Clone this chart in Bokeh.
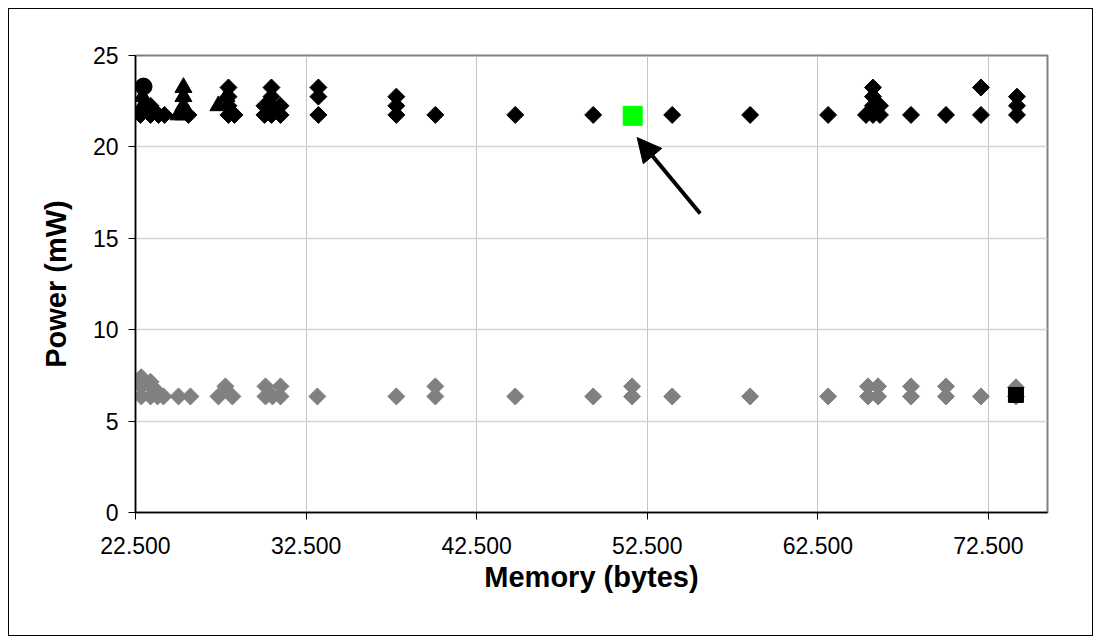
import numpy as np
from bokeh.plotting import figure
from bokeh.layouts import column
from bokeh.models import Range1d, FixedTicker, Arrow, NormalHead
from bokeh.embed import file_html
from bokeh.resources import INLINE

# ---- data ----
black_diamond_x = [22790, 23380, 23380, 23850, 24200, 25600,
                   27950, 27950, 27950, 27950, 28300,
                   30060, 30060, 30470, 30470, 30470, 30470, 31000, 31000,
                   33220, 33220, 33220,
                   37790, 37790, 37790,
                   40075, 44760, 49330, 53960, 58530, 63100,
                   65320, 65730, 65730, 65730, 65730, 66140, 66140,
                   67960, 70010, 72060, 72060,
                   74170, 74170, 74170]
black_diamond_y = [21.75, 21.75, 22.25, 21.75, 21.75, 21.75,
                   21.75, 22.25, 22.75, 23.25, 21.75,
                   21.75, 22.25, 21.75, 22.25, 22.75, 23.25, 21.75, 22.25,
                   21.75, 22.75, 23.25,
                   21.75, 22.25, 22.75,
                   21.75, 21.75, 21.75, 21.75, 21.75, 21.75,
                   21.75, 21.75, 22.25, 22.75, 23.25, 21.75, 22.25,
                   21.75, 21.75, 21.75, 23.25,
                   21.75, 22.25, 22.75]

black_triangle_x = [22910, 22910, 25020, 25310, 25310, 25310, 25310, 27360, 27830]
black_triangle_y = [22.25, 22.75, 21.75, 21.75, 22.25, 22.75, 23.25, 22.25, 22.75]

black_circle_x = [22970]
black_circle_y = [23.3]

gray_x = [22840, 22840, 22840, 23380, 23380, 23380, 23790, 23790, 24140,
          25020, 25720, 27360, 27770, 28180,
          30120, 30120, 30530, 31000, 31000, 33160,
          37790, 40075, 40075, 44760, 49330, 51610, 51610,
          53960, 58530, 63100, 65440, 65440, 66030, 66030,
          67960, 67960, 70010, 70010, 72060, 74110, 74110]
gray_y = [7.4, 6.9, 6.35, 7.15, 6.9, 6.35, 6.6, 6.35, 6.35,
          6.35, 6.35, 6.35, 6.9, 6.35,
          6.9, 6.35, 6.35, 6.9, 6.35, 6.35,
          6.35, 6.35, 6.9, 6.35, 6.35, 6.35, 6.9,
          6.35, 6.35, 6.35, 6.35, 6.9, 6.35, 6.9,
          6.35, 6.9, 6.35, 6.9, 6.35, 6.85, 6.35]

green_x = [51645]
green_y = [21.7]

black_square_x = [74110]
black_square_y = [6.43]

x_ticks = [22500, 32500, 42500, 52500, 62500, 72500]
x_tick_labels = ["22.500", "32.500", "42.500", "52.500", "62.500", "72.500"]
y_ticks = [0, 5, 10, 15, 20, 25]

arrow_tail = (55600, 16.36)
arrow_tip = (51908, 20.51)

FONT = "Liberation Sans"

p = figure(width=1083, height=626, output_backend="svg", toolbar_location=None,
           x_range=Range1d(22500, 75960), y_range=Range1d(0, 25),
           min_border_left=126, min_border_right=45, min_border_top=46,
           min_border_bottom=123)

p.outline_line_color = "#808080"
p.outline_line_width = 2

p.xgrid.grid_line_color = "#c4c4c4"
p.xgrid.grid_line_width = 1
p.ygrid.grid_line_color = "#d4d4d4"
p.ygrid.grid_line_width = 1.5

p.xaxis.ticker = FixedTicker(ticks=x_ticks)
p.xaxis.major_label_overrides = dict(zip(x_ticks, x_tick_labels))
p.yaxis.ticker = FixedTicker(ticks=y_ticks)

for ax in (p.xaxis, p.yaxis):
    ax.axis_line_color = "black"
    ax.axis_line_width = 1.5
    ax.major_tick_line_color = "black"
    ax.major_tick_in = 0
    ax.major_tick_out = 7
    ax.minor_tick_line_color = None
    ax.major_label_text_font = FONT
    ax.major_label_text_font_size = "23px"
    ax.major_label_text_color = "black"
    ax.axis_label_text_font = FONT
    ax.axis_label_text_font_style = "bold"
    ax.axis_label_text_font_size = "29px"
    ax.axis_label_text_color = "black"

p.xaxis.axis_label = "Memory (bytes)"
p.yaxis.axis_label = "Power (mW)"
p.xaxis.major_label_standoff = 17
p.yaxis.major_label_standoff = 10
p.xaxis.axis_label_standoff = 4
p.yaxis.axis_label_standoff = 18

p.scatter(gray_x, gray_y, marker="square", size=12, angle=np.pi / 4,
          fill_color="#808080", line_color="#808080")
p.scatter(black_diamond_x, black_diamond_y, marker="square", size=12, angle=np.pi / 4,
          fill_color="black", line_color="black")
p.scatter(black_triangle_x, black_triangle_y, marker="triangle", size=17,
          fill_color="black", line_color="black")
p.scatter(black_circle_x, black_circle_y, marker="circle", size=17,
          fill_color="black", line_color="black")
p.scatter(black_square_x, black_square_y, marker="square", size=15,
          fill_color="black", line_color="black")
p.scatter(green_x, green_y, marker="square", size=19,
          fill_color="#00ff00", line_color="#00ff00")

p.add_layout(Arrow(x_start=arrow_tail[0], y_start=arrow_tail[1],
                   x_end=arrow_tip[0], y_end=arrow_tip[1],
                   line_color="black", line_width=4,
                   end=NormalHead(size=24, fill_color="black", line_color="black")))

lay = column(p, styles={"border": "1px solid black",
                        "margin-left": "8px", "margin-top": "8px"})

open("out.html", "w").write(file_html(lay, INLINE))
